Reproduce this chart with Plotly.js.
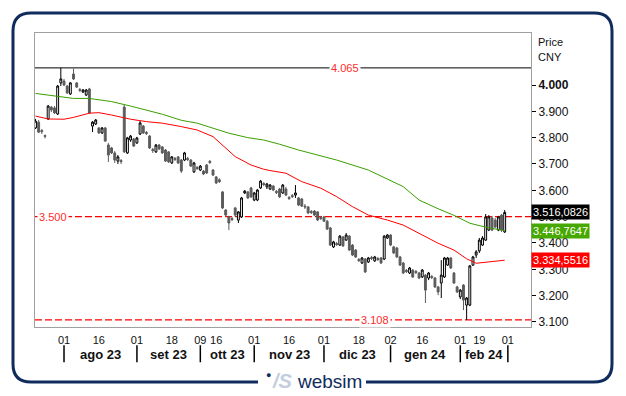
<!DOCTYPE html>
<html>
<head>
<meta charset="utf-8">
<script src="https://cdn.plot.ly/plotly-3.0.1.min.js"></script>
<style>
html,body{margin:0;padding:0;background:#fff;}
#chart{width:626px;height:396px;}
</style>
</head>
<body>
<div id="chart"></div>
<script>
// ---- data (daily candles, values in index points) ----
const startDate = '2023-07-19';
const endSlotDate = '2024-03-01';
const holidays = ['2023-09-29','2023-10-02','2023-10-03','2023-10-04','2023-10-05','2023-10-06',
  '2024-01-01','2024-02-09','2024-02-12','2024-02-13','2024-02-14','2024-02-15','2024-02-16'];

const openV = [3837,3859,3827,3808,3871,3916,3913,3890,4008,4015,3996,3966,4042,4008,3983,3973,3962,3985,3844,3852,
  3837,3818,3837,3772,3761,3742,3711,3713,3916,3742,3791,3795,3780,3814,3844,3820,3806,3755,3746,3772,
  3765,3753,3746,3704,3721,3727,3715,3715,3721,3715,3670,3687,3677,3673,3696,3710,3677,3651,3640,3594,
  3525,3499,3493,3533,3487,3499,3590,3594,3609,3563,3563,3609,3626,3613,3605,3616,3596,3605,3590,3605,
  3573,3580,3582,3571,3567,3540,3537,3520,3521,3518,3497,3499,3483,3457,3385,3398,3392,3423,3411,3426,
  3392,3373,3337,3324,3339,3328,3345,3332,3341,3343,3339,3419,3430,3385,3381,3347,3324,3296,3286,3297,
  3292,3286,3271,3278,3267,3273,3267,3233,3248,3271,3316,3343,3286,3233,3195,3240,3164,3164,3316,3354,
  3370,3392,3411,3449,3495,3487,3449,3506,3442];
const highV = [3871,3867,3833,3812,3924,3920,3920,4000,4065,4023,4000,4011,4062,4011,3989,3985,3985,3989,3863,3871,
  3840,3840,3840,3780,3765,3749,3734,3719,3924,3803,3810,3799,3803,3863,3848,3825,3810,3761,3776,3776,
  3768,3757,3749,3730,3727,3730,3719,3746,3727,3719,3708,3692,3696,3677,3700,3715,3681,3654,3646,3597,
  3529,3503,3499,3537,3521,3575,3601,3597,3613,3594,3605,3639,3631,3628,3624,3620,3601,3609,3624,3613,
  3578,3586,3620,3575,3571,3548,3540,3525,3525,3521,3503,3503,3487,3461,3408,3404,3430,3426,3438,3430,
  3396,3377,3343,3347,3343,3347,3351,3351,3347,3347,3430,3434,3434,3389,3385,3351,3328,3301,3309,3301,
  3297,3290,3301,3282,3290,3278,3271,3237,3335,3347,3347,3347,3290,3237,3225,3244,3195,3316,3351,3373,
  3419,3426,3510,3506,3503,3495,3503,3510,3525];
const lowV = [3833,3818,3814,3797,3867,3897,3890,3886,3996,3996,3966,3962,4019,3989,3973,3970,3958,3890,3821,3848,
  3814,3814,3784,3708,3738,3704,3700,3700,3742,3738,3784,3765,3776,3810,3814,3810,3757,3742,3742,3753,
  3738,3708,3704,3700,3711,3700,3666,3711,3711,3689,3666,3677,3673,3658,3662,3700,3654,3624,3628,3529,
  3499,3449,3483,3499,3476,3495,3586,3567,3571,3559,3559,3605,3616,3605,3601,3597,3586,3571,3586,3578,
  3563,3571,3571,3540,3537,3529,3510,3510,3502,3483,3487,3480,3449,3389,3381,3389,3389,3385,3408,3370,
  3351,3343,3328,3320,3286,3324,3335,3328,3332,3320,3335,3415,3389,3358,3343,3313,3282,3286,3282,3267,
  3282,3263,3267,3172,3259,3263,3229,3202,3191,3267,3313,3301,3244,3210,3187,3145,3108,3160,3313,3343,
  3362,3389,3408,3445,3445,3457,3445,3442,3438];
const closeV = [3863,3821,3823,3805,3920,3905,3894,3996,4023,4000,3970,4008,4023,3992,3980,3981,3981,3894,3859,3867,
  3818,3837,3787,3734,3742,3715,3727,3709,3746,3799,3806,3768,3799,3856,3818,3816,3761,3751,3772,3757,
  3742,3711,3708,3727,3717,3704,3673,3742,3717,3692,3704,3683,3692,3662,3666,3706,3658,3628,3633,3533,
  3506,3476,3489,3506,3518,3571,3597,3571,3575,3590,3601,3635,3622,3624,3620,3601,3592,3575,3620,3582,
  3569,3576,3590,3544,3540,3537,3514,3516,3506,3487,3493,3483,3453,3392,3404,3394,3426,3389,3430,3373,
  3354,3347,3333,3343,3290,3343,3341,3347,3337,3324,3426,3430,3392,3362,3347,3316,3286,3292,3305,3271,
  3288,3267,3297,3221,3286,3269,3233,3214,3278,3343,3343,3305,3248,3214,3221,3183,3191,3313,3347,3366,
  3411,3419,3499,3499,3449,3461,3499,3449,3516.0826];

// moving averages, read at sample sessions (session index, value)
const maLongIdx = [0,7,12,17,19,24,30,35,40,46,51,56,61,67,72,77,83,95,105,116,121,127,132,137,142,148];
const maLongVal = [3968,3957,3949,3949,3946,3937,3920,3905,3889,3866,3855,3836,3817,3800,3791,3775,3753,3715,3677,3614,3563,3530,3505,3475,3460,3446.7647];
const maShortIdx = [0,4,9,12,17,20,24,30,35,40,46,51,56,59,63,68,72,74,79,84,90,95,100,105,111,116,121,127,132,136,139,143,148];
const maShortVal = [3882,3871,3870,3877,3893,3895,3886,3870,3861,3855,3842,3829,3804,3772,3728,3696,3680,3675,3665,3633,3608,3576,3538,3506,3487,3468,3437,3399,3373,3340,3323,3328,3334.5516];

const refLevel = 3500;
const yTickVals = [3100,3200,3300,3400,3500,3600,3700,3800,3900,4000];
const tickDates = ['2023-08-01','2023-08-16','2023-09-01','2023-09-18','2023-10-09','2023-10-16','2023-11-01','2023-11-16',
  '2023-12-01','2023-12-18','2024-01-02','2024-01-16','2024-02-01','2024-02-19','2024-03-01'];
const monthNames = ['gen','feb','mar','apr','mag','giu','lug','ago','set','ott','nov','dic'];

// ---- helpers ----
function tradingDays(s, e){
  const out = [];
  const d = new Date(s + 'T00:00:00Z');
  const end = new Date(e + 'T00:00:00Z');
  while(d <= end){
    const dow = d.getUTCDay();
    const iso = d.toISOString().slice(0,10);
    if(dow !== 0 && dow !== 6 && holidays.indexOf(iso) < 0) out.push(iso);
    d.setUTCDate(d.getUTCDate() + 1);
  }
  return out;
}
function fmt(v, dec){
  const s = v.toFixed(dec);
  const parts = s.split('.');
  const ip = parts[0].replace(/\B(?=(\d{3})+(?!\d))/g, '.');
  return parts.length > 1 ? ip + ',' + parts[1] : ip;
}

const slots = tradingDays(startDate, endSlotDate);
const xIdx = closeV.map((_, i) => i);
const tickVals = tickDates.map(d => slots.indexOf(d));
const tickText = tickDates.map(d => d.slice(8));

const bounds = [];
for(let i = 1; i < slots.length; i++){
  if(slots[i].slice(0,7) !== slots[i-1].slice(0,7)) bounds.push(i);
}

const maxHigh = Math.max.apply(null, highV);
const minLow = Math.min.apply(null, lowV);

const FONT = 'Arial, "Liberation Sans", sans-serif';
const NAVY = '#0f2c5c';
const LVL = '#ff2a2a';

const traces = [
  {type:'scatter', mode:'lines', x: maLongIdx, y: maLongVal, line:{color:'#3a9f00', width:1}, hoverinfo:'skip', showlegend:false},
  {type:'scatter', mode:'lines', x: maShortIdx, y: maShortVal, line:{color:'#ff0000', width:1}, hoverinfo:'skip', showlegend:false},
  {type:'candlestick', x: xIdx, open: openV, high: highV, low: lowV, close: closeV,
    increasing:{line:{color:'#000000', width:1}, fillcolor:'#ffffff'},
    decreasing:{line:{color:'#5c5c5c', width:1}, fillcolor:'#5c5c5c'},
    whiskerwidth:0, showlegend:false, hoverinfo:'skip'}
];

const shapes = [];
const annotations = [];

// levels
shapes.push({type:'line', xref:'paper', x0:0, x1:1, yref:'y', y0:maxHigh, y1:maxHigh, line:{color:'#000', width:1}, layer:'below'});
shapes.push({type:'line', xref:'paper', x0:0, x1:1, yref:'y', y0:refLevel, y1:refLevel, line:{color:'#ff0000', width:1.2, dash:'7px,3px'}, layer:'below'});
shapes.push({type:'line', xref:'paper', x0:0, x1:1, yref:'y', y0:minLow, y1:minLow, line:{color:'#ff0000', width:1.2, dash:'7px,3px'}, layer:'below'});
annotations.push({xref:'paper', x:0.625, xanchor:'center', yref:'y', y:maxHigh, yanchor:'middle', text:fmt(maxHigh,0), showarrow:false, bgcolor:'#fff', font:{family:FONT, size:11, color:LVL}, borderpad:1});
annotations.push({xref:'paper', x:0.004, xanchor:'left', yref:'y', y:refLevel, yanchor:'middle', text:fmt(refLevel,0), showarrow:false, bgcolor:'#fff', font:{family:FONT, size:11, color:LVL}, borderpad:1});
annotations.push({xref:'paper', x:0.6855, xanchor:'center', yref:'y', y:minLow, yanchor:'middle', text:fmt(minLow,0), showarrow:false, bgcolor:'#fff', font:{family:FONT, size:11, color:LVL}, borderpad:1});

// month separators and labels
for(let k = 0; k < bounds.length; k++){
  shapes.push({type:'line', xref:'x', x0:bounds[k], x1:bounds[k], yref:'paper', y0:-0.062, y1:-0.12, line:{color:'#000', width:1.5}});
  if(k + 1 < bounds.length){
    const d = slots[bounds[k]];
    const m = parseInt(d.slice(5,7),10) - 1;
    annotations.push({xref:'x', x:(bounds[k] + bounds[k+1]) / 2, xanchor:'center', yref:'paper', y:-0.0935, yanchor:'middle',
      text:'<b>' + monthNames[m] + ' ' + d.slice(2,4) + '</b>', showarrow:false, font:{family:FONT, size:13, color:'#111'}});
  }
}

// right labels
annotations.push({xref:'paper', x:1.01, xanchor:'left', yref:'paper', y:0.969, yanchor:'middle', text:'Price', showarrow:false, font:{family:FONT, size:11, color:'#111'}});
annotations.push({xref:'paper', x:1.01, xanchor:'left', yref:'paper', y:0.918, yanchor:'middle', text:'CNY', showarrow:false, font:{family:FONT, size:11, color:'#111'}});

const lastClose = closeV[closeV.length-1];
const lastLong = maLongVal[maLongVal.length-1];
const lastShort = maShortVal[maShortVal.length-1];
[[lastClose,'#000000'],[lastLong,'#46a800'],[lastShort,'#ff0000']].forEach(p => {
  annotations.push({xref:'paper', x:1.0, xanchor:'left', yref:'y', y:p[0], yanchor:'middle', text:fmt(p[0],4), showarrow:false,
    bgcolor:p[1], font:{family:FONT, size:11, color:'#fff'}, borderpad:1});
});

// outer rounded frame (broken at bottom for the logo)
const px = v => (v - 35) / 496;
const py = v => (327 - v) / 294;
const framePath = 'M ' + px(366) + ',' + py(382) + ' L ' + px(594) + ',' + py(382) +
  ' Q ' + px(612) + ',' + py(382) + ' ' + px(612) + ',' + py(364) +
  ' L ' + px(612) + ',' + py(31) +
  ' Q ' + px(612) + ',' + py(13) + ' ' + px(594) + ',' + py(13) +
  ' L ' + px(31) + ',' + py(13) +
  ' Q ' + px(13) + ',' + py(13) + ' ' + px(13) + ',' + py(31) +
  ' L ' + px(13) + ',' + py(364) +
  ' Q ' + px(13) + ',' + py(382) + ' ' + px(31) + ',' + py(382) +
  ' L ' + px(258) + ',' + py(382);
shapes.push({type:'path', xref:'paper', yref:'paper', path: framePath, line:{color:NAVY, width:3}});

// logo
annotations.push({xref:'paper', yref:'paper', x:px(268), xanchor:'center', y:py(375), yanchor:'middle', text:'●', showarrow:false, font:{family:FONT, size:9, color:NAVY}});
annotations.push({xref:'paper', yref:'paper', x:px(282), xanchor:'center', y:py(381), yanchor:'middle', text:'<b><i>/S</i></b>', showarrow:false, font:{family:FONT, size:20, color:'#c3cedd'}});
annotations.push({xref:'paper', yref:'paper', x:px(329), xanchor:'center', y:py(381), yanchor:'middle', text:'websim', showarrow:false, font:{family:FONT, size:19, color:NAVY}});

const layout = {
  width:626, height:396,
  margin:{l:35, r:95, t:33, b:69},
  paper_bgcolor:'#fff', plot_bgcolor:'#fff',
  showlegend:false,
  separators:',.',
  boxgap:0.15,
  xaxis:{type:'linear', range:[-0.15,156.3], showgrid:false, zeroline:false, showline:true, mirror:true,
    linecolor:'#a0a0a0', linewidth:1, tickmode:'array', tickvals:tickVals, ticktext:tickText,
    ticks:'outside', ticklen:3, tickcolor:'rgba(0,0,0,0)', tickfont:{family:FONT, size:11, color:'#111'},
    rangeslider:{visible:false}, fixedrange:true},
  yaxis:{side:'right', range:[3080.9,4197.5], showgrid:false, zeroline:false, showline:true, mirror:true,
    linecolor:'#a0a0a0', linewidth:1, tickmode:'array', tickvals:yTickVals,
    ticktext:yTickVals.map(v => v === 4000 ? '<b>' + fmt(v,0) + '</b>' : fmt(v,0)),
    ticks:'outside', ticklen:4, tickcolor:'#000', tickfont:{family:FONT, size:12, color:'#111'}, fixedrange:true},
  shapes:shapes,
  annotations:annotations
};

Plotly.newPlot('chart', traces, layout, {staticPlot:true, displayModeBar:false});
</script>
</body>
</html>
